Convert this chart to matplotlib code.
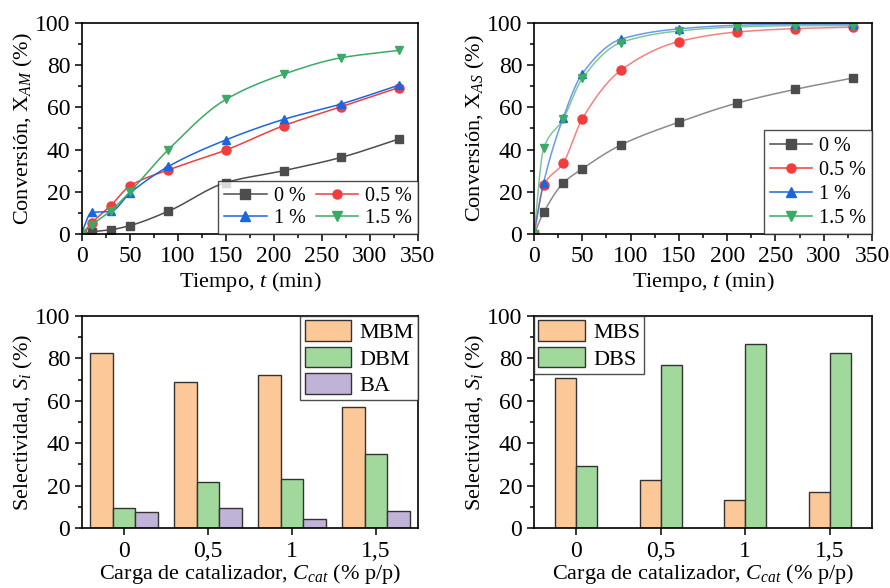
# Conversion and selectivity plots for the catalyst loading runs

import numpy as np
import matplotlib
matplotlib.use('Agg')
import matplotlib.pyplot as plt
from matplotlib.ticker import MultipleLocator


# Reaction time (min)
tiempo = [0, 10, 30, 50, 90, 150, 210, 270, 330]
cargas = ['0 %', '0.5 %', '1 %', '1.5 %']

# Conversion of AM (%), one list per catalyst loading
x_am_0 = [0, 1, 2, 4, 10.8, 24.4, 30, 36.3, 45]
x_am_05 = [0, 5.2, 13.5, 22.8, 30.4, 39.8, 51.3, 60.3, 69.4]
x_am_1 = [1, 10.2, 10.7, 19.4, 32, 44.6, 54.3, 61.6, 70.5]
x_am_15 = [0, 4.2, 11, 20, 40, 63.8, 75.7, 83.5, 87]

# Conversion of AS (%)
x_as_0 = [0, 10.2, 24, 30.9, 42.2, 53, 62, 68.5, 73.9]
x_as_05 = [0, 23, 33.5, 54.6, 77.6, 91.2, 95.7, 97.3, 98]
x_as_1 = [0, 24.4, 54.8, 76, 92.3, 97.2, 98.9, 99.4, 99.4]
x_as_15 = [0, 40.6, 54.3, 73.7, 90.7, 96.2, 98.1, 98.7, 98.7]

# Selectivity (%) vs catalyst loading
cat_labels = ['0', '0,5', '1', '1,5']
s_mbm = [82.7, 68.7, 72, 57]
s_dbm = [9.4, 21.7, 23.3, 34.9]
s_ba = [7.7, 9.4, 4.4, 7.9]
s_mbs = [70.6, 22.8, 13, 16.8]
s_dbs = [29.1, 77, 86.6, 82.7]

plt.rcParams['font.family'] = ['Liberation Serif', 'DejaVu Serif']
plt.rcParams['mathtext.fontset'] = 'custom'
plt.rcParams['mathtext.rm'] = 'Liberation Serif'
plt.rcParams['mathtext.it'] = 'Liberation Serif:italic'
plt.rcParams['font.size'] = 16

grey = '#4d4d4d'
red = '#f23d3d'
blue = '#1a66e0'
green = '#3baa66'
orange_bar = '#fdc897'
green_bar = '#a0d99b'
purple_bar = '#c1b3d7'


# Monotone cubic curve through the points, only used to draw the lines
def smooth(x, y, n=300):
    x = np.asarray(x, float)
    y = np.asarray(y, float)
    h = np.diff(x)
    d = np.diff(y) / h
    m = np.zeros_like(y)
    for k in range(1, len(x) - 1):
        if d[k - 1] * d[k] > 0:
            w1 = 2 * h[k] + h[k - 1]
            w2 = h[k] + 2 * h[k - 1]
            m[k] = (w1 + w2) / (w1 / d[k - 1] + w2 / d[k])
    m[0] = d[0]
    m[-1] = d[-1]
    xs = np.linspace(x[0], x[-1], n)
    idx = np.clip(np.searchsorted(x, xs) - 1, 0, len(x) - 2)
    t = (xs - x[idx]) / h[idx]
    h00 = 2 * t**3 - 3 * t**2 + 1
    h10 = t**3 - 2 * t**2 + t
    h01 = -2 * t**3 + 3 * t**2
    h11 = t**3 - t**2
    ys = h00 * y[idx] + h10 * h[idx] * m[idx] + h01 * y[idx + 1] + h11 * h[idx] * m[idx + 1]
    return xs, ys


def style_axes(ax):
    for sp in ax.spines.values():
        sp.set_linewidth(1.2)
    ax.tick_params(which='both', direction='out', top=False, right=False, width=1.1)
    ax.tick_params(which='major', length=5, labelsize=17)
    ax.tick_params(which='minor', length=3)


def frame(leg):
    leg.get_frame().set_edgecolor('#222222')
    leg.get_frame().set_linewidth(1.0)


def conversion_plot(ax, series, line_alpha, ylabel, legend_cols, legend_spacing):
    markers = ['s', 'o', '^', 'v']
    colors = [grey, red, blue, green]
    handles = []
    for y, mk, c, lab in zip(series, markers, colors, cargas):
        xs, ys = smooth(tiempo, y)
        ax.plot(xs, ys, color=c, lw=1.1, alpha=line_alpha)
        ax.plot(tiempo, y, mk, color=c, ms=6.5 if mk == 'o' else 6, mec=c)
        h, = ax.plot([], [], color=c, lw=1.1, marker=mk, ms=6.5)
        handles.append((h, lab))
    if legend_cols == 2:
        # fill the legend row by row
        handles = [handles[0], handles[2], handles[1], handles[3]]
    ax.set_xlim(0, 350)
    ax.set_ylim(0, 100)
    ax.xaxis.set_major_locator(MultipleLocator(50))
    ax.xaxis.set_minor_locator(MultipleLocator(25))
    ax.yaxis.set_major_locator(MultipleLocator(20))
    ax.yaxis.set_minor_locator(MultipleLocator(10))
    ax.set_xlabel(r'Tiempo, $t$ (min)', fontsize=16, labelpad=2)
    ax.set_ylabel(ylabel, fontsize=16, labelpad=0)
    style_axes(ax)
    leg = ax.legend([h for h, _ in handles], [l for _, l in handles], loc='lower right',
                    ncol=legend_cols, fontsize=14.5, frameon=True, fancybox=False,
                    borderaxespad=0, handlelength=2.1, handletextpad=0.35,
                    columnspacing=0.5, borderpad=0.3, labelspacing=legend_spacing)
    frame(leg)


def selectivity_plot(ax, groups, colors, labels, width, legend_loc):
    pos = np.arange(len(cat_labels))
    n = len(groups)
    for i, (vals, c, lab) in enumerate(zip(groups, colors, labels)):
        offs = (i - (n - 1) / 2) * width
        ax.bar(pos + offs, vals, width, color=c, edgecolor='#333333', linewidth=1.0, label=lab)
    ax.set_xlim(-0.5, len(cat_labels) - 0.5)
    ax.set_ylim(0, 100)
    ax.set_xticks(pos)
    ax.set_xticklabels(cat_labels)
    ax.yaxis.set_major_locator(MultipleLocator(20))
    ax.yaxis.set_minor_locator(MultipleLocator(10))
    ax.set_xlabel(r'Carga de catalizador, $C_{cat}$ (% p/p)', fontsize=16, labelpad=0)
    ax.set_ylabel(r'Selectividad, $S_i$ (%)', fontsize=16, labelpad=0)
    style_axes(ax)
    ax.tick_params(axis='x', which='major', pad=4)
    leg = ax.legend(loc=legend_loc, fontsize=16, frameon=True, fancybox=False, borderaxespad=0,
                    handlelength=2.1, handleheight=1.05, handletextpad=0.35, borderpad=0.2,
                    labelspacing=0.15)
    frame(leg)


def main():
    fig = plt.figure(figsize=(8.9, 5.88), dpi=100)
    ax1 = fig.add_axes([0.0921, 0.602, 0.3775, 0.359])
    ax2 = fig.add_axes([0.600, 0.602, 0.3798, 0.359])
    ax3 = fig.add_axes([0.0921, 0.102, 0.3775, 0.3605])
    ax4 = fig.add_axes([0.600, 0.102, 0.3798, 0.3605])

    conversion_plot(ax1, [x_am_0, x_am_05, x_am_1, x_am_15], 1.0,
                    r'Conversión, X$_{\mathit{AM}}$ (%)', 2, 0.15)
    conversion_plot(ax2, [x_as_0, x_as_05, x_as_1, x_as_15], 0.65,
                    r'Conversión, X$_{\mathit{AS}}$ (%)', 1, 0.25)

    selectivity_plot(ax3, [s_mbm, s_dbm, s_ba], [orange_bar, green_bar, purple_bar],
                     ['MBM', 'DBM', 'BA'], 0.268, 'upper right')
    selectivity_plot(ax4, [s_mbs, s_dbs], [orange_bar, green_bar],
                     ['MBS', 'DBS'], 0.25, 'upper left')

    fig.savefig('out.png', dpi=100)


if __name__ == '__main__':
    main()
